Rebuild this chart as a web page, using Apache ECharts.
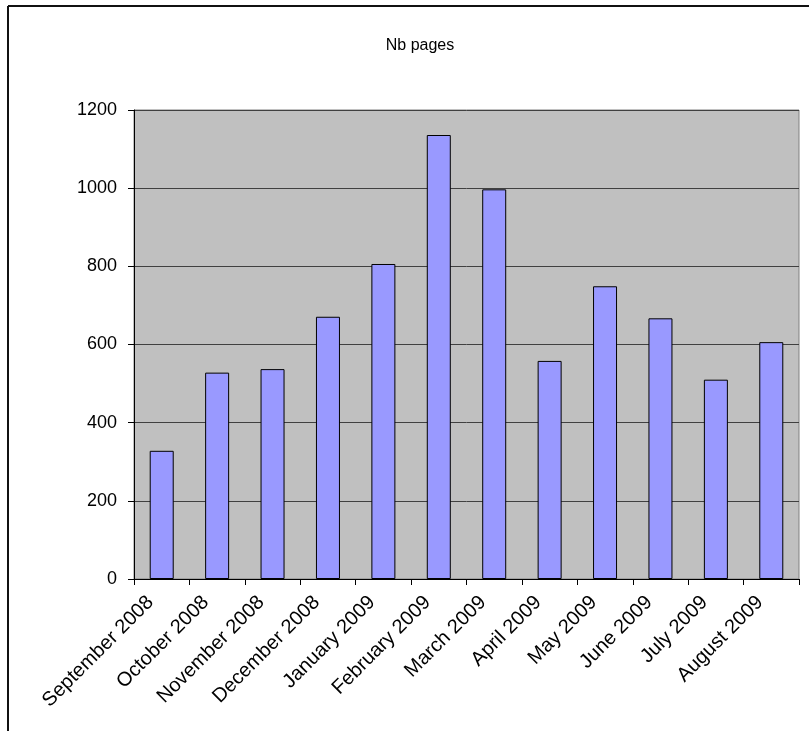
<!DOCTYPE html>
<html>
<head>
<meta charset="utf-8">
<script src="https://cdn.jsdelivr.net/npm/echarts@6/dist/echarts.min.js"></script>
<style>
html,body{margin:0;padding:0;background:#fff;}
#c{width:809px;height:731px;}
</style>
</head>
<body>
<div id="c"></div>
<script>
const categories = ["September 2008","October 2008","November 2008","December 2008","January 2009","February 2009","March 2009","April 2009","May 2009","June 2009","July 2009","August 2009"];
const nbPages = [328, 528, 537, 671, 806, 1136, 997, 558, 749, 667, 510, 606];
const yTicks = {min: 0, max: 1200, interval: 200};
const titleText = "Nb pages";

const chart = echarts.init(document.getElementById('c'), null, {renderer: 'canvas'});
const font = 'Liberation Sans, Arial, sans-serif';
chart.setOption({
  backgroundColor: '#ffffff',
  animation: false,
  title: {
    text: titleText,
    left: 415, top: 33, textAlign: 'center',
    textStyle: {fontFamily: font, fontSize: 16, fontWeight: 'normal', color: '#000'}
  },
  graphic: [
    {type: 'line', shape: {x1: 8, y1: 6, x2: 809, y2: 6}, style: {stroke: '#111', lineWidth: 2}},
    {type: 'line', shape: {x1: 8, y1: 6, x2: 8, y2: 731}, style: {stroke: '#111', lineWidth: 2}}
  ],
  grid: {
    left: 134, right: 10, top: 110, bottom: 152,
    show: true, backgroundColor: '#C0C0C0', borderColor: '#808080', borderWidth: 1
  },
  xAxis: {
    type: 'category',
    data: categories,
    boundaryGap: true,
    axisLine: {lineStyle: {color: '#000', width: 1}},
    axisTick: {show: true, length: 6, inside: false, lineStyle: {color: '#000'}},
    axisLabel: {rotate: 45, interval: 0, margin: 9, padding: [0, 16, 0, 0], fontFamily: font, fontSize: 20, color: '#000'}
  },
  yAxis: {
    type: 'value',
    min: yTicks.min, max: yTicks.max, interval: yTicks.interval,
    axisLine: {show: true, lineStyle: {color: '#000', width: 1}},
    axisTick: {show: true, length: 6, lineStyle: {color: '#000'}},
    axisLabel: {margin: 17, fontFamily: font, fontSize: 18, color: '#000', formatter: function (v) { return String(v); }},
    splitLine: {show: true, lineStyle: {color: '#404040', width: 1}}
  },
  series: [{
    type: 'bar',
    data: nbPages,
    barWidth: 24,
    itemStyle: {color: '#9999FF', borderColor: '#000', borderWidth: 1}
  }]
});
</script>
</body>
</html>
